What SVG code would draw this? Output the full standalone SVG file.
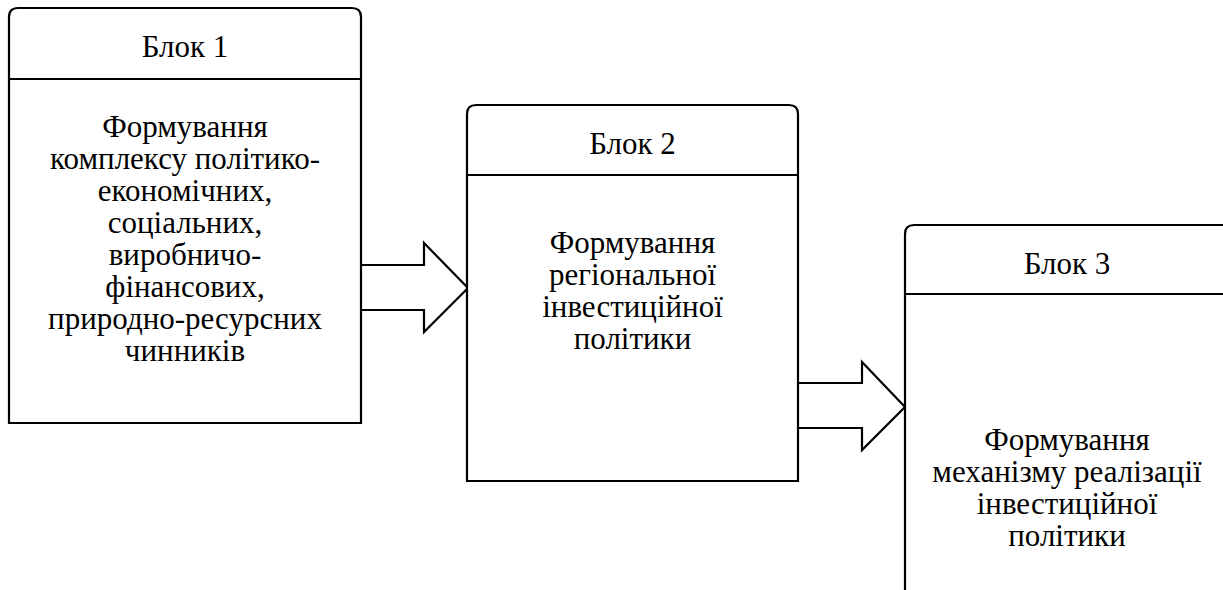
<svg xmlns="http://www.w3.org/2000/svg" width="1223" height="590" viewBox="0 0 1223 590">
<style>
.box{fill:#fff;stroke:#000;stroke-width:2.2}
.ln{stroke:#000;stroke-width:2.2;fill:none}
.arr{fill:#fff;stroke:#000;stroke-width:2.2;stroke-linejoin:miter}
</style>
<rect x="0" y="0" width="1223" height="590" fill="#fff"/>
<g id="connectors">
<path class="arr" d="M361,265 H424 V243 L468,288 L424,332 V310 H361"/>
<path class="arr" d="M798,383 H862 V362 L905,407 L862,450 V428 H798"/>
</g>
<g id="block1" font-family="Liberation Serif" font-size="31" text-anchor="middle" fill="#000">
<path class="box" d="M9,423 V17 Q9,8 18,8 H352 Q361,8 361,17 V423 Z"/>
<line class="ln" x1="9" y1="79" x2="361" y2="79"/>
<text x="185" y="57">Блок 1</text>
<text x="185" y="137">Формування</text>
<text x="185" y="169">комплексу політико-</text>
<text x="185" y="201">економічних,</text>
<text x="185" y="233">соціальних,</text>
<text x="185" y="265">виробничо-</text>
<text x="185" y="297">фінансових,</text>
<text x="185" y="329">природно-ресурсних</text>
<text x="185" y="361">чинників</text>
</g>
<g id="block2" font-family="Liberation Serif" font-size="31" text-anchor="middle" fill="#000">
<path class="box" d="M467,481 V114 Q467,105 476,105 H789 Q798,105 798,114 V481 Z"/>
<line class="ln" x1="467" y1="175" x2="798" y2="175"/>
<text x="632.5" y="154">Блок 2</text>
<text x="632.5" y="253">Формування</text>
<text x="632.5" y="285">регіональної</text>
<text x="632.5" y="317">інвестиційної</text>
<text x="632.5" y="349">політики</text>
</g>
<g id="block3" font-family="Liberation Serif" font-size="31" text-anchor="middle" fill="#000">
<path class="box" d="M905,592 V234 Q905,225 914,225 H1228 V592"/>
<line class="ln" x1="905" y1="294" x2="1228" y2="294"/>
<text x="1067" y="274">Блок 3</text>
<text x="1067" y="450">Формування</text>
<text x="1067" y="482">механізму реалізації</text>
<text x="1067" y="514">інвестиційної</text>
<text x="1067" y="546">політики</text>
</g>
</svg>
